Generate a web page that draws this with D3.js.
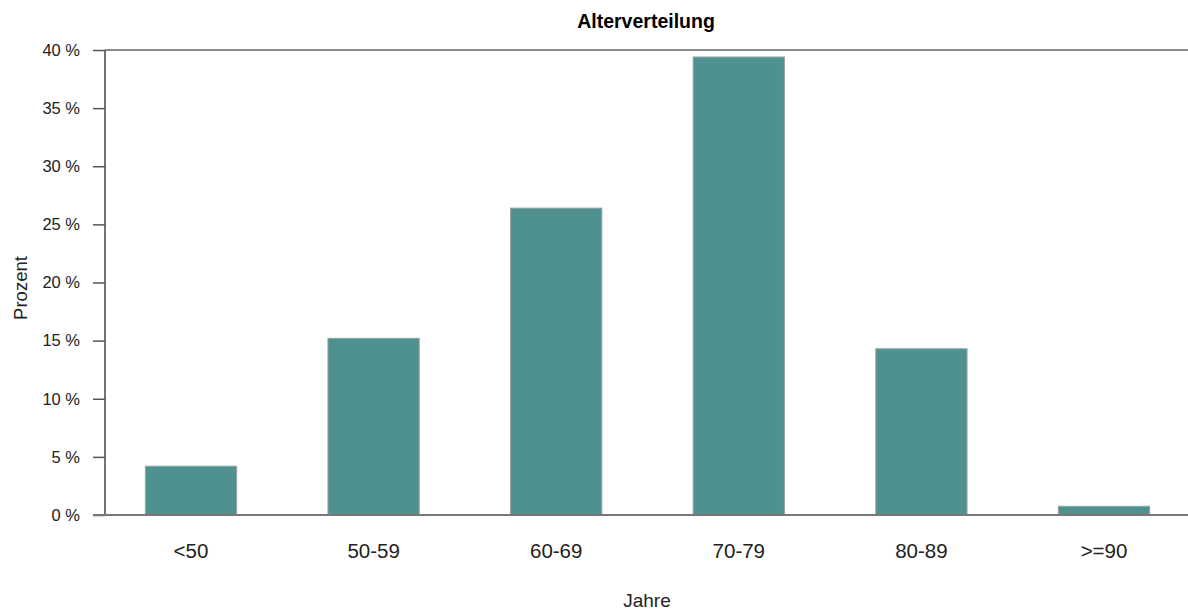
<!DOCTYPE html>
<html>
<head>
<meta charset="utf-8">
<script src="https://cdn.jsdelivr.net/npm/d3@7"></script>
<style>
  html, body { margin: 0; padding: 0; background: #fff; }
  svg { display: block; font-family: "Liberation Sans", Arial, sans-serif; }
</style>
</head>
<body>
<svg id="chart" width="1188" height="611"></svg>
<script>
// Altersgruppen und Anteile in Prozent
const categories = ["<50", "50-59", "60-69", "70-79", "80-89", ">=90"];
const values = [4.2, 15.2, 26.4, 39.4, 14.3, 0.75];
const yTicks = [0, 5, 10, 15, 20, 25, 30, 35, 40];

(function () {
const svg = d3.select("#chart");
const W = 1188;
const axisX = 105, plotTop = 50, plotBottom = 515;

const x = d3.scaleBand()
  .domain(categories)
  .range([99.7, 1195.3])
  .paddingInner(0.5)
  .paddingOuter(0.25);

const y = d3.scaleLinear().domain([0, 40]).range([plotBottom, plotTop]);

// Titel
svg.append("text")
  .attr("x", 646).attr("y", 28)
  .attr("text-anchor", "middle")
  .attr("font-size", 19.5).attr("font-weight", "bold")
  .attr("fill", "#000")
  .text("Alterverteilung");

// obere Begrenzungslinie
svg.append("line")
  .attr("x1", axisX).attr("x2", W)
  .attr("y1", y(40)).attr("y2", y(40))
  .attr("stroke", "#8a8a8a").attr("stroke-width", 2);

// Balken
svg.append("g").selectAll("rect")
  .data(categories)
  .join("rect")
  .attr("x", d => x(d))
  .attr("width", x.bandwidth())
  .attr("y", (d, i) => y(values[i]))
  .attr("height", (d, i) => y(0) - y(values[i]))
  .attr("fill", "#4f918f")
  .attr("stroke", "#9aa5a4")
  .attr("stroke-width", 1);

// y-Achse
const yAxis = d3.axisLeft(y)
  .tickValues(yTicks)
  .tickFormat(d => d + " %")
  .tickSize(12)
  .tickPadding(13);

const gy = svg.append("g")
  .attr("transform", `translate(${axisX},0)`)
  .call(yAxis);
gy.select(".domain").attr("stroke", "#444").attr("stroke-width", 1.5)
  .attr("d", `M0,${plotTop}V${plotBottom}`);
gy.selectAll(".tick line").attr("stroke", "#555").attr("stroke-width", 1.5);
gy.selectAll(".tick text")
  .attr("font-size", 16.5)
  .attr("font-family", "Liberation Sans, Arial, sans-serif")
  .attr("fill", "#222");

// Grundlinie
svg.append("line")
  .attr("x1", axisX - 12).attr("x2", W)
  .attr("y1", y(0)).attr("y2", y(0))
  .attr("stroke", "#777").attr("stroke-width", 2);

// x-Achse Beschriftungen
const xAxis = d3.axisBottom(x).tickSize(0).tickPadding(28);
const gx = svg.append("g")
  .attr("transform", `translate(0,${plotBottom})`)
  .call(xAxis);
gx.select(".domain").remove();
gx.selectAll(".tick text")
  .attr("font-size", 20.5)
  .attr("font-family", "Liberation Sans, Arial, sans-serif")
  .attr("fill", "#222");

// Achsentitel
svg.append("text")
  .attr("transform", "translate(27,288) rotate(-90)")
  .attr("text-anchor", "middle")
  .attr("font-size", 18.5)
  .attr("fill", "#222")
  .text("Prozent");

svg.append("text")
  .attr("x", 647).attr("y", 607)
  .attr("text-anchor", "middle")
  .attr("font-size", 19)
  .attr("fill", "#222")
  .text("Jahre");
})();
</script>
</body>
</html>
